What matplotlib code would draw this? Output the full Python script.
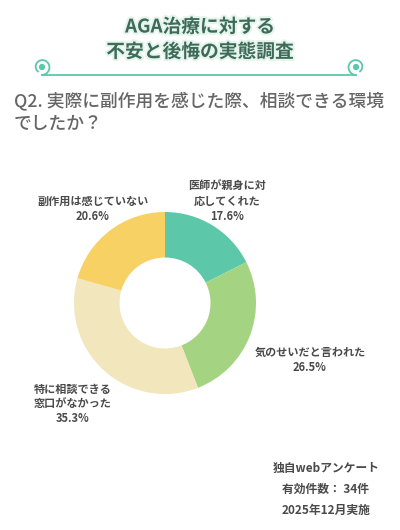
import numpy as np
import matplotlib.pyplot as plt
import matplotlib.patheffects as pe

plt.rcParams['font.family'] = ['Noto Sans CJK JP', 'DejaVu Sans']

# data
categories = ['医師が親身に対\n応してくれた', '気のせいだと言われた', '特に相談できる\n窓口がなかった', '副作用は感じていない']
shares = [17.6, 26.5, 35.3, 20.6]
colors = ['#5cc8a9', '#a4d481', '#f1e6bc', '#f7d163']

title_lines = ['AGA治療に対する', '不安と後悔の実態調査']
question = 'Q2. 実際に副作用を感じた際、相談できる環境\nでしたか？'
footer = ['独自webアンケート', '有効件数： 34件', '2025年12月実施']

W, H = 400, 530
fig = plt.figure(figsize=(W / 100, H / 100), dpi=100)
fig.patch.set_facecolor('white')

# overlay in pixel coords for text and decoration
bg = fig.add_axes([0, 0, 1, 1])
bg.set_xlim(0, W)
bg.set_ylim(H, 0)
bg.axis('off')

title_col = '#3d6b58'
halo = [pe.withStroke(linewidth=3, foreground='#e6f4ee')]
bg.text(200, 27, title_lines[0], ha='center', va='center', fontsize=13.5,
        fontweight='bold', color=title_col, path_effects=halo)
bg.text(200, 52, title_lines[1], ha='center', va='center', fontsize=13.5,
        fontweight='bold', color=title_col, path_effects=halo)

# ornament line with swirls
line_col = '#5cc8a9'
bg.plot([42, 356], [75, 75], color=line_col, lw=1.3, solid_capstyle='round')
for cx, sgn in [(42, 1), (356, -1)]:
    t = np.linspace(np.pi / 2, np.pi / 2 + 2 * np.pi * 0.88, 80)
    r = np.linspace(8, 6, 80)
    xs = cx - sgn * r * np.cos(t)
    ys = 67 + r * np.sin(t)
    bg.plot(xs, ys, color=line_col, lw=1.3)
    bg.add_patch(plt.Circle((cx, 67), 2.4, color=line_col))

bg.text(14, 112, question, ha='left', va='center', fontsize=12.8,
        color='#666666', linespacing=1.3, fontweight='medium')

# donut
cx, cy, rad = 165, 303, 91
ax = fig.add_axes([(cx - rad) / W, (H - cy - rad) / H, 2 * rad / W, 2 * rad / H])
ax.pie(shares, colors=colors, startangle=90, counterclock=False, radius=1,
       wedgeprops=dict(width=0.5, edgecolor='none'))
ax.set_xlim(-1, 1)
ax.set_ylim(-1, 1)
ax.set_aspect('equal')

lab_col = '#4a4a4a'
label_pos = [(227, 201), (310, 360), (73, 404), (93, 209)]
for (lx, ly), cat, s in zip(label_pos, categories, shares):
    bg.text(lx, ly, f'{cat}\n{s:.1f}%', ha='center', va='center', fontsize=8,
            fontweight='bold', color=lab_col, linespacing=1.2)

for i, line in enumerate(footer):
    bg.text(326, 468 + i * 21, line, ha='center', va='center', fontsize=8.5,
            fontweight='bold', color=lab_col)

fig.savefig('out.png', dpi=100)
